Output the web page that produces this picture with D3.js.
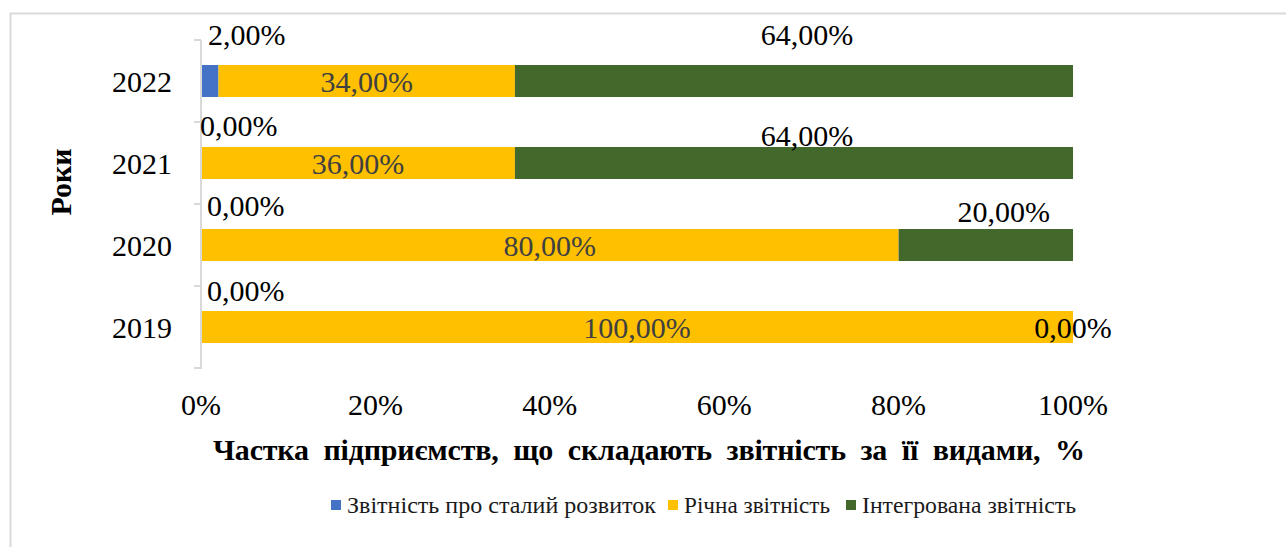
<!DOCTYPE html>
<html>

<head>
    <meta charset="utf-8">
    <script src="https://d3js.org/d3.v7.min.js"></script>
    <style>
        body { margin: 0; background: #fff; }
        svg text { font-family: "Liberation Serif", "Times New Roman", Times, "DejaVu Serif", serif; white-space: pre; }
    </style>
</head>

<body>
    <script type="text/JavaScript">

// data
var years = ["2022", "2021", "2020", "2019"];
var seriesNames = ["Звітність про сталий розвиток", "Річна звітність", "Інтегрована звітність"];
var sustainable = [2, 0, 0, 0];
var annual = [34, 36, 80, 100];
var integrated = [64, 64, 20, 0];
var xTicks = [0, 20, 40, 60, 80, 100];

var colours = ["#4472c4", "#ffc000", "#43682b"];

// label nudges (the source chart had hand-placed labels)
var blueDx = [7, -1, 6, 6], blueDy = [-20, -11, -13, -10];
var greenDx = [13, 13, 18, 0], greenDy = [-20, -1, -7, 0];

var w = 1286; var h = 547;
var svg = d3.select("body").append("svg")
.attr("width", w)
.attr("height", h)
.attr("font-family", "'Liberation Serif', 'Times New Roman', serif")

// outer frame
svg.append("rect")
.attr("x", 10.5).attr("y", 13.5)
.attr("width", 1400).attr("height", 700)
.attr("fill", "none")
.attr("stroke", "#d9d9d9")
.attr("stroke-width", 2);

var x = d3.scaleLinear().domain([0, 100]).range([201, 1073]);
var y = d3.scaleBand().domain(years).range([40, 368])
.paddingInner(0.61).paddingOuter(0.305);

var rows = years.map(function(yr, i) {
    return { year: yr, vals: [sustainable[i], annual[i], integrated[i]], i: i };
});

var stack = d3.stack().keys([0, 1, 2]).value(function(d, k) { return d.vals[k]; });
var layers = stack(rows);

// bars
svg.selectAll("g.layer")
.data(layers)
.enter()
.append("g")
.attr("fill", function(d, k) { return colours[k]; })
.selectAll("rect")
.data(function(d) { return d; })
.enter()
.append("rect")
.attr("x", function(d) { return x(d[0]); })
.attr("y", function(d) { return y(d.data.year); })
.attr("width", function(d) { return x(d[1]) - x(d[0]); })
.attr("height", y.bandwidth());

// y axis line with category ticks
var axisG = svg.append("g").attr("stroke", "#d9d9d9").attr("stroke-width", 2);
axisG.append("line").attr("x1", 201).attr("x2", 201).attr("y1", 40).attr("y2", 369);
var bounds = years.map(function(yr) { return y(yr) - y.step() * y.paddingInner() / 2; }).concat([368]);
axisG.selectAll("line.tk").data(bounds).enter().append("line")
.attr("x1", 194).attr("x2", 201)
.attr("y1", function(d) { return d; }).attr("y2", function(d) { return d; });

// year labels
svg.selectAll("text.yr").data(years).enter().append("text")
.attr("x", 172)
.attr("y", function(d) { return y(d) + y.bandwidth() / 2; })
.attr("dy", "0.35em")
.attr("text-anchor", "end")
.attr("font-size", 30)
.attr("fill", "#000")
.text(function(d) { return d; });

// x tick labels
svg.selectAll("text.xt").data(xTicks).enter().append("text")
.attr("x", function(d) { return x(d); })
.attr("y", 415)
.attr("text-anchor", "middle")
.attr("font-size", 30)
.attr("fill", "#000")
.text(function(d) { return d + "%"; });

var fmt = function(v) { return v.toFixed(2).replace(".", ",") + "%"; };

// blue labels above the bars
svg.selectAll("text.lb1").data(rows).enter().append("text")
.attr("x", function(d) { return x(0) + blueDx[d.i]; })
.attr("y", function(d) { return y(d.year) + blueDy[d.i]; })
.attr("font-size", 30)
.attr("fill", "#000")
.text(function(d) { return fmt(d.vals[0]); });

// yellow labels centred in segment
svg.selectAll("text.lb2").data(layers[1]).enter().append("text")
.attr("x", function(d) { return (x(d[0]) + x(d[1])) / 2; })
.attr("y", function(d) { return y(d.data.year) + y.bandwidth() / 2; })
.attr("dy", "0.35em")
.attr("text-anchor", "middle")
.attr("font-size", 30)
.attr("fill", "#404040")
.text(function(d) { return fmt(d.data.vals[1]); });

// green labels
svg.selectAll("text.lb3").data(layers[2]).enter().append("text")
.attr("x", function(d) { return (x(d[0]) + x(d[1])) / 2 + greenDx[d.data.i]; })
.attr("y", function(d) {
    if (d.data.vals[2] === 0) return y(d.data.year) + y.bandwidth() / 2;
    return y(d.data.year) + greenDy[d.data.i];
})
.attr("dy", function(d) { return d.data.vals[2] === 0 ? "0.35em" : 0; })
.attr("text-anchor", "middle")
.attr("font-size", 30)
.attr("fill", "#000")
.text(function(d) { return fmt(d.data.vals[2]); });

// axis titles
svg.append("text")
.attr("x", 213).attr("y", 460)
.attr("font-size", 30)
.attr("font-weight", "bold")
.attr("fill", "#000")
.attr("textLength", 872)
.attr("lengthAdjust", "spacing")
.text("Частка  підприємств,  що  складають  звітність  за  її  видами,  %");

svg.append("text")
.attr("transform", "translate(71,182) rotate(-90)")
.attr("text-anchor", "middle")
.attr("font-size", 30)
.attr("font-weight", "bold")
.attr("fill", "#000")
.text("Роки");

// legend
var legX = [331, 668, 846];
var legW = [309, 146, 214];
var leg = svg.selectAll("g.leg").data(seriesNames).enter().append("g")
.attr("transform", function(d, k) { return "translate(" + legX[k] + ",500)"; });
leg.append("rect")
.attr("width", 10).attr("height", 10)
.attr("fill", function(d, k) { return colours[k]; });
leg.append("text")
.attr("x", 16).attr("y", 5)
.attr("dy", "0.35em")
.attr("font-size", 23)
.attr("fill", "#1a1a1a")
.attr("textLength", function(d, k) { return legW[k]; })
.attr("lengthAdjust", "spacingAndGlyphs")
.text(function(d) { return d; });

</script>
</body>

</html>
